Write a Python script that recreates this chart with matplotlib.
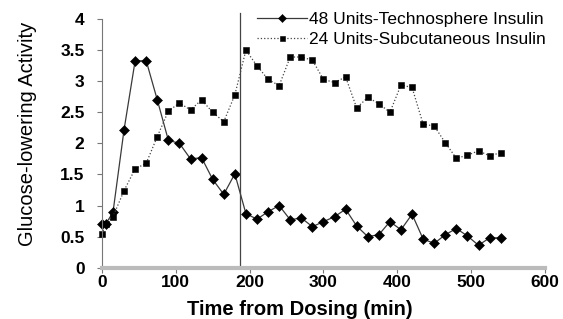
import matplotlib.pyplot as plt

plt.rcParams['font.family'] = ['Liberation Sans', 'DejaVu Sans']

# time points (min)
time_min = [0, 5, 15, 30, 45, 60, 75, 90, 105, 120, 135, 150, 165, 180, 195,
            210, 225, 240, 255, 270, 285, 300, 315, 330, 345, 360, 375, 390,
            405, 420, 435, 450, 465, 480, 495, 510, 525, 540]

techno = [0.70, 0.70, 0.89, 2.22, 3.33, 3.33, 2.70, 2.05, 2.00, 1.75, 1.77,
          1.42, 1.18, 1.51, 0.87, 0.78, 0.90, 1.00, 0.77, 0.80, 0.66, 0.74,
          0.82, 0.94, 0.67, 0.50, 0.53, 0.74, 0.61, 0.86, 0.46, 0.39, 0.53,
          0.63, 0.51, 0.36, 0.48, 0.48]

subq = [0.54, 0.70, 0.82, 1.24, 1.59, 1.68, 2.11, 2.52, 2.65, 2.54, 2.70,
        2.50, 2.35, 2.78, 3.50, 3.25, 3.03, 2.93, 3.39, 3.39, 3.34, 3.03,
        2.98, 3.07, 2.57, 2.74, 2.64, 2.50, 2.94, 2.90, 2.31, 2.28, 2.01,
        1.76, 1.81, 1.88, 1.80, 1.85]

marker_time = 187

fig = plt.figure(figsize=(5.63, 3.19), dpi=100)
ax = fig.add_axes([0.181, 0.161, 0.787, 0.779])

ax.plot(time_min, techno, '-', color='#3a3a3a', lw=0.9, marker='D',
        ms=4.6, mew=0.4, mfc='black', mec='black', clip_on=False,
        label='48 Units-Technosphere Insulin')
ax.plot(time_min, subq, ':', color='#444444', lw=0.9, marker='s',
        ms=4.5, mew=0.4, mfc='black', mec='black', clip_on=False,
        label='24 Units-Subcutaneous Insulin')

ax.axvline(marker_time, ymin=0, ymax=1.025, color='#444444', lw=0.9,
           clip_on=False)

ax.set_xlim(0, 600)
ax.set_ylim(0, 4)
ax.set_xticks(range(0, 601, 100))
ax.set_yticks([0, 0.5, 1, 1.5, 2, 2.5, 3, 3.5, 4])
ax.set_yticklabels(['0', '0.5', '1', '1.5', '2', '2.5', '3', '3.5', '4'])

for s in ['top', 'right']:
    ax.spines[s].set_visible(False)
ax.spines['left'].set_color('#777777')
ax.spines['left'].set_linewidth(0.8)
ax.spines['bottom'].set_color('#bbbbbb')
ax.spines['bottom'].set_linewidth(3)
ax.tick_params(axis='both', length=3.5, width=0.8, color='#777777',
               labelsize=12.5)
ax.tick_params(axis='y', pad=9)
ax.tick_params(axis='x', pad=2)
for lab in ax.get_xticklabels() + ax.get_yticklabels():
    lab.set_fontweight('bold')

ax.set_xlabel('Time from Dosing (min)', fontsize=14.5, fontweight='bold')
ax.xaxis.set_label_coords(0.447, -0.17)
ax.xaxis.label.set_va('center')
ax.set_ylabel('Glucose-lowering Activity', fontsize=14.5)
ax.yaxis.set_label_coords(-0.168, 0.538)
ax.yaxis.label.set_va('center')

fig.legend(loc='upper left', bbox_to_anchor=(257 / 563, 1 - 12 / 319),
           frameon=False, fontsize=12.5, handlelength=2.9,
           handletextpad=0.1, labelspacing=0.25, borderpad=0,
           borderaxespad=0, markerscale=0.8)

fig.savefig('out.png', dpi=100)
